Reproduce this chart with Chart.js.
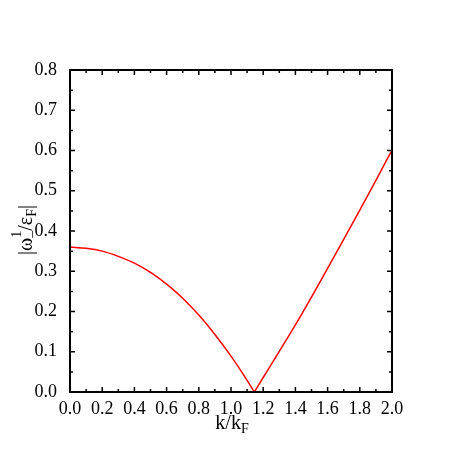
<!DOCTYPE html>
<html>
<head>
<meta charset="utf-8">
<script src="https://cdn.jsdelivr.net/npm/chart.js@4"></script>
<style>
  html, body { margin: 0; padding: 0; background: #fff; }
  #wrap { width: 463px; height: 463px; }
</style>
</head>
<body>
<div id="wrap"><canvas id="chart" width="463" height="463"></canvas></div>
<script>
// Data: |omega_-^1 / eps_F| against k/k_F
// left branch (falls to zero) and right branch (rises again)
const leftK = [0.0, 0.1, 0.2, 0.3, 0.4, 0.5, 0.6, 0.7, 0.8, 0.9, 1.0, 1.1, 1.145];
const leftW = [0.360, 0.357, 0.350, 0.337, 0.320, 0.297, 0.268, 0.233, 0.191, 0.143, 0.089, 0.029, 0.0];
const rightK = [1.145, 1.2, 1.3, 1.4, 1.5, 1.6, 1.7, 1.8, 1.9, 2.0];
const rightW = [0.0, 0.036, 0.101, 0.167, 0.236, 0.307, 0.379, 0.452, 0.526, 0.601];

const xTicks = [0.0, 0.2, 0.4, 0.6, 0.8, 1.0, 1.2, 1.4, 1.6, 1.8, 2.0];
const yTicks = [0.0, 0.1, 0.2, 0.3, 0.4, 0.5, 0.6, 0.7, 0.8];

const serif = "'Liberation Serif', 'DejaVu Serif', serif";
const red = '#ff0000';
const black = '#000000';

function toPoints(xs, ys) {
    return xs.map((x, i) => ({ x: x, y: ys[i] }));
}

// frame on all four sides plus inward ticks (major + minor)
const frameTicks = {
    id: 'frameTicks',
    afterDraw(chart) {
        const ctx = chart.ctx;
        const a = chart.chartArea;
        const xs = chart.scales.x;
        const ys = chart.scales.y;
        ctx.save();
        ctx.strokeStyle = black;
        ctx.lineWidth = 2;
        ctx.strokeRect(a.left, a.top, a.right - a.left, a.bottom - a.top);

        ctx.lineWidth = 1.5;
        ctx.beginPath();
        xTicks.forEach((v, i) => {
            const px = xs.getPixelForValue(v);
            ctx.moveTo(px, a.bottom); ctx.lineTo(px, a.bottom - 5);
            ctx.moveTo(px, a.top); ctx.lineTo(px, a.top + 5);
            if (i < xTicks.length - 1) {
                const mx = xs.getPixelForValue((v + xTicks[i + 1]) / 2);
                ctx.moveTo(mx, a.bottom); ctx.lineTo(mx, a.bottom - 3);
                ctx.moveTo(mx, a.top); ctx.lineTo(mx, a.top + 3);
            }
        });
        yTicks.forEach((v, i) => {
            const py = ys.getPixelForValue(v);
            ctx.moveTo(a.left, py); ctx.lineTo(a.left + 5, py);
            ctx.moveTo(a.right, py); ctx.lineTo(a.right - 5, py);
            if (i < yTicks.length - 1) {
                const my = ys.getPixelForValue((v + yTicks[i + 1]) / 2);
                ctx.moveTo(a.left, my); ctx.lineTo(a.left + 3, my);
                ctx.moveTo(a.right, my); ctx.lineTo(a.right - 3, my);
            }
        });
        ctx.stroke();

        // axis titles with sub/superscripts
        ctx.fillStyle = black;
        ctx.textBaseline = 'alphabetic';

        // x title: k/k_F
        const big = '20px ' + serif;
        const small = '14px ' + serif;
        ctx.font = big;
        const w1 = ctx.measureText('k/k').width;
        ctx.font = small;
        const w2 = ctx.measureText('F').width;
        const cx = (a.left + a.right) / 2 + 1;
        let x0 = cx - (w1 + w2) / 2;
        ctx.font = big;
        ctx.fillText('k/k', x0, 429);
        ctx.font = small;
        ctx.fillText('F', x0 + w1, 433);

        // y title: |ω_-^1/ε_F|
        const parts = [
            { t: '|', f: big, dy: 0 },
            { t: 'ω', f: big, dy: 0 },
            { t: '–', f: small, dy: 4, stack: true },
            { t: '1', f: small, dy: -11 },
            { t: '/', f: big, dy: 0 },
            { t: 'ε', f: big, dy: 0 },
            { t: 'F', f: small, dy: 4 },
            { t: '|', f: big, dy: 0 }
        ];
        let total = 0;
        const widths = parts.map(p => { ctx.font = p.f; return ctx.measureText(p.t).width; });
        parts.forEach((p, i) => {
            if (p.stack) return;
            total += widths[i];
        });
        ctx.translate(32, 230);
        ctx.rotate(-Math.PI / 2);
        let x = -total / 2;
        parts.forEach((p, i) => {
            ctx.font = p.f;
            ctx.fillText(p.t, x, p.dy);
            if (!p.stack) x += widths[i];
        });
        ctx.restore();
    }
};

const ctx = document.getElementById('chart').getContext('2d');
new Chart(ctx, {
    type: 'line',
    data: {
        datasets: [
            {
                data: toPoints(leftK, leftW),
                borderColor: red,
                borderWidth: 1.5,
                pointRadius: 0,
                fill: false,
                cubicInterpolationMode: 'monotone'
            },
            {
                data: toPoints(rightK, rightW),
                borderColor: red,
                borderWidth: 1.5,
                pointRadius: 0,
                fill: false,
                cubicInterpolationMode: 'monotone'
            }
        ]
    },
    options: {
        responsive: false,
        animation: false,
        layout: { padding: { top: 70, right: 71, left: 0, bottom: 0 } },
        plugins: {
            legend: { display: false },
            tooltip: { enabled: false }
        },
        scales: {
            x: {
                type: 'linear',
                min: 0,
                max: 2,
                afterFit: s => { s.height = 71; },
                afterBuildTicks: s => { s.ticks = xTicks.map(v => ({ value: v })); },
                grid: { display: false, drawTicks: false },
                border: { display: false },
                ticks: {
                    padding: 6,
                    color: black,
                    font: { family: serif, size: 18 },
                    callback: v => v.toFixed(1)
                }
            },
            y: {
                type: 'linear',
                min: 0,
                max: 0.8,
                afterFit: s => { s.width = 70; },
                afterBuildTicks: s => { s.ticks = yTicks.map(v => ({ value: v })); },
                grid: { display: false, drawTicks: false },
                border: { display: false },
                ticks: {
                    padding: 13,
                    color: black,
                    font: { family: serif, size: 18 },
                    callback: v => v.toFixed(1)
                }
            }
        }
    },
    plugins: [frameTicks]
});
</script>
</body>
</html>
